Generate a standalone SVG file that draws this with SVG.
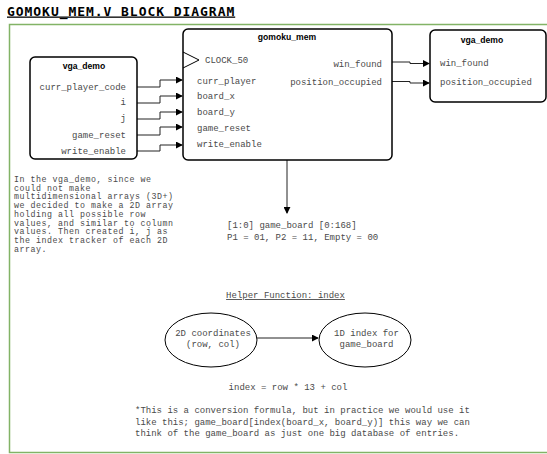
<svg xmlns="http://www.w3.org/2000/svg" width="547" height="454" viewBox="0 0 547 454">
<style>
.t{font-family:"Liberation Mono","Courier New",monospace;font-size:9px;fill:#4a4a4a}
.p{font-family:"Liberation Mono","Courier New",monospace;font-size:8.3px;letter-spacing:0.52px;fill:#4a4a4a}
.b{font-family:"Liberation Sans",Arial,sans-serif;font-size:8.6px;font-weight:bold;fill:#000}
.box{fill:#fff;stroke:#000;stroke-width:1.5}
.ln{fill:none;stroke:#222;stroke-width:1}
.el{fill:#fff;stroke:#000;stroke-width:1}
</style>
<defs>
<marker id="ar" viewBox="0 0 8 8" refX="7" refY="4" markerWidth="7" markerHeight="7" markerUnits="userSpaceOnUse" orient="auto">
<path d="M0,0 L8,4 L0,8 Z" fill="#000"/>
</marker>
</defs>
<rect width="547" height="454" fill="#fff"/>
<text x="7" y="15.5" style="font-family:'DejaVu Sans Mono',monospace;font-size:13px;font-weight:bold;letter-spacing:0.95px;text-decoration:underline" fill="#000">GOMOKU_MEM.V BLOCK DIAGRAM</text>
<rect id="frame" x="9.5" y="24.5" width="545" height="428" fill="none" stroke="#82b366" stroke-width="1.5"/>

<g id="connectors">
<path class="ln" d="M137,87 H160 V80 H182" marker-end="url(#ar)"/>
<path class="ln" d="M137,103 H160 V96 H182" marker-end="url(#ar)"/>
<path class="ln" d="M137,119 H160 V112 H182" marker-end="url(#ar)"/>
<path class="ln" d="M137,135 H160 V127 H182" marker-end="url(#ar)"/>
<path class="ln" d="M137,151 H160 V145 H182" marker-end="url(#ar)"/>
<path class="ln" d="M392,62 H410 V63.5 H429" marker-end="url(#ar)"/>
<path class="ln" d="M392,81.5 H410 V83 H429" marker-end="url(#ar)"/>
<path class="ln" d="M287,160 V213" marker-end="url(#ar)"/>
<path class="ln" d="M257,338 H318" marker-end="url(#ar)"/>
</g>

<g id="vga_demo_left">
<rect class="box" x="30" y="57" width="107" height="102" rx="5"/>
<text class="b" x="84" y="69" text-anchor="middle">vga_demo</text>
<text class="t" x="126" y="90" text-anchor="end">curr_player_code</text>
<text class="t" x="126" y="105" text-anchor="end">i</text>
<text class="t" x="126" y="121" text-anchor="end">j</text>
<text class="t" x="126" y="138" text-anchor="end">game_reset</text>
<text class="t" x="126" y="154" text-anchor="end">write_enable</text>
</g>

<g id="gomoku_mem">
<rect class="box" x="183" y="29" width="209" height="131" rx="5"/>
<path d="M183,52 L199,60 L183,68" fill="none" stroke="#000" stroke-width="1"/>
<text class="b" x="287" y="40" text-anchor="middle">gomoku_mem</text>
<text class="t" x="205" y="63">CLOCK_50</text>
<text class="t" x="197" y="83.5">curr_player</text>
<text class="t" x="197" y="99">board_x</text>
<text class="t" x="197" y="115">board_y</text>
<text class="t" x="197" y="131">game_reset</text>
<text class="t" x="197" y="147">write_enable</text>
<text class="t" x="382" y="67" text-anchor="end">win_found</text>
<text class="t" x="382" y="84.5" text-anchor="end">position_occupied</text>
</g>

<g id="vga_demo_right">
<rect class="box" x="430" y="30" width="116" height="72" rx="5"/>
<text class="b" x="482" y="43" text-anchor="middle">vga_demo</text>
<text class="t" x="440" y="66">win_found</text>
<text class="t" x="440" y="84.5">position_occupied</text>
</g>

<g id="note_left">
<text class="p" x="14" y="182">In the vga_demo, since we</text>
<text class="p" x="14" y="190.7">could not make</text>
<text class="p" x="14" y="199.4">multidimensional arrays (3D+)</text>
<text class="p" x="14" y="208.1">we decided to make a 2D array</text>
<text class="p" x="14" y="216.8">holding all possible row</text>
<text class="p" x="14" y="225.5">values, and similar to column</text>
<text class="p" x="14" y="234.2">values. Then created i, j as</text>
<text class="p" x="14" y="242.9">the index tracker of each 2D</text>
<text class="p" x="14" y="251.6">array.</text>
</g>

<g id="game_board">
<text class="t" x="227" y="228">[1:0] game_board [0:168]</text>
<text class="t" x="227" y="239.5">P1 = 01, P2 = 11, Empty = 00</text>
</g>

<g id="helper_title">
<text class="t" x="285.5" y="298" text-anchor="middle" style="text-decoration:underline">Helper Function: index</text>
</g>

<g id="ellipse_2d">
<ellipse class="el" cx="211" cy="340" rx="46" ry="27"/>
<text class="t" x="213" y="335.5" text-anchor="middle">2D coordinates</text>
<text class="t" x="213" y="346.5" text-anchor="middle">(row, col)</text>
</g>

<g id="ellipse_1d">
<ellipse class="el" cx="365" cy="340" rx="46" ry="27"/>
<text class="t" x="366.5" y="335.5" text-anchor="middle">1D index for</text>
<text class="t" x="366.5" y="346.5" text-anchor="middle">game_board</text>
</g>

<g id="formula">
<text class="t" x="288" y="390" text-anchor="middle">index = row * 13 + col</text>
</g>

<g id="footnote">
<text class="t" x="135" y="413">*This is a conversion formula, but in practice we would use it</text>
<text class="t" x="135" y="424.5">like this; game_board[index(board_x, board_y)] this way we can</text>
<text class="t" x="135" y="436">think of the game_board as just one big database of entries.</text>
</g>
</svg>
